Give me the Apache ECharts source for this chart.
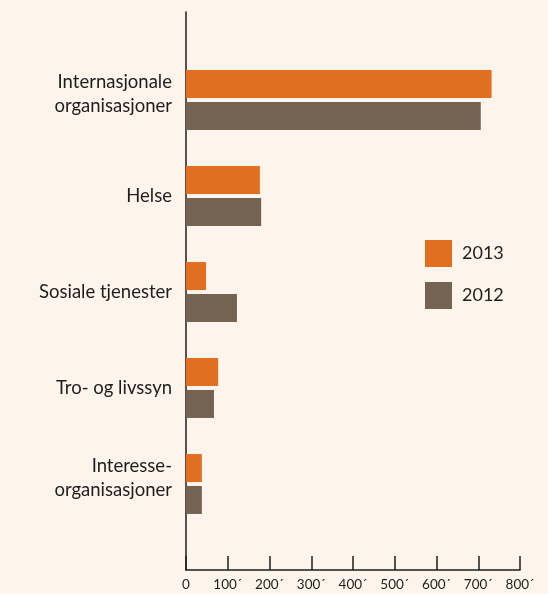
<!DOCTYPE html>
<html>
<head>
<meta charset="utf-8">
<script src="https://cdn.jsdelivr.net/npm/echarts@6/dist/echarts.min.js"></script>
<style>
  html, body { margin: 0; padding: 0; background: #fdf4eb; }
  #chart { width: 548px; height: 594px; }
</style>
</head>
<body>
<div id="chart"></div>
<script>
// kategorier (ovenfra og ned)
const categories = [
  "Internasjonale\norganisasjoner",
  "Helse",
  "Sosiale tjenester",
  "Tro- og livssyn",
  "Interesse-\norganisasjoner",
];
const values2013 = [732, 177, 48, 77, 38];
const values2012 = [706, 180, 122, 67, 38];
const xTicks = [0, 100, 200, 300, 400, 500, 600, 700, 800];

const ORANGE = "#e26e20";
const BROWN = "#746253";
const INK = "#1e1e1e";

const chart = echarts.init(document.getElementById("chart"));

const option = {
  backgroundColor: "#fdf4eb",
  animation: false,
  textStyle: { fontFamily: "Lato", color: INK },
  legend: {
    orient: "vertical",
    left: 425,
    top: 240,
    padding: 0,
    itemWidth: 27,
    itemHeight: 27,
    itemGap: 15,
    icon: "rect",
    textStyle: { fontSize: 18, color: INK, padding: [0, 0, 0, 5] },
    data: ["2013", "2012"],
  },
  grid: [
    // søylene
    { left: 186, right: 28, top: 52, bottom: 62 },
    // aksene
    { left: 186, right: 28, top: 12, bottom: 24 },
  ],
  xAxis: [
    {
      gridIndex: 0,
      type: "value",
      min: xTicks[0],
      max: xTicks[xTicks.length - 1],
      show: false,
    },
    {
      gridIndex: 1,
      type: "value",
      min: xTicks[0],
      max: xTicks[xTicks.length - 1],
      interval: 100,
      axisLine: { show: true, lineStyle: { color: INK, width: 1.5 } },
      axisTick: { show: true, inside: true, length: 14, lineStyle: { color: INK, width: 1.5 } },
      splitLine: { show: false },
      axisLabel: {
        margin: 8,
        fontSize: 13.5,
        color: INK,
        formatter: (v) => (v === 0 ? "0" : v + "´"),
      },
    },
  ],
  yAxis: [
    {
      gridIndex: 0,
      type: "category",
      inverse: true,
      data: categories,
      axisLine: { show: false },
      axisTick: { show: false },
      axisLabel: {
        margin: 14,
        fontSize: 18.5,
        lineHeight: 24,
        color: INK,
        align: "right",
        // tolinjers etiketter sitter litt høyere i originalen
        formatter: (v) => (v.indexOf("\n") >= 0 ? v + "\n{s|}" : v),
        rich: { s: { lineHeight: 12, fontSize: 1 } },
      },
    },
    {
      gridIndex: 1,
      type: "value",
      axisLine: { show: true, lineStyle: { color: INK, width: 1.5 } },
      axisTick: { show: false },
      axisLabel: { show: false },
      splitLine: { show: false },
    },
  ],
  series: [
    {
      name: "2013",
      type: "bar",
      xAxisIndex: 0,
      yAxisIndex: 0,
      barWidth: 28,
      barGap: "14%",
      itemStyle: { color: ORANGE },
      data: values2013,
    },
    {
      name: "2012",
      type: "bar",
      xAxisIndex: 0,
      yAxisIndex: 0,
      barWidth: 28,
      barGap: "14%",
      itemStyle: { color: BROWN },
      data: values2012,
    },
  ],
};

chart.setOption(option);
</script>
</body>
</html>
